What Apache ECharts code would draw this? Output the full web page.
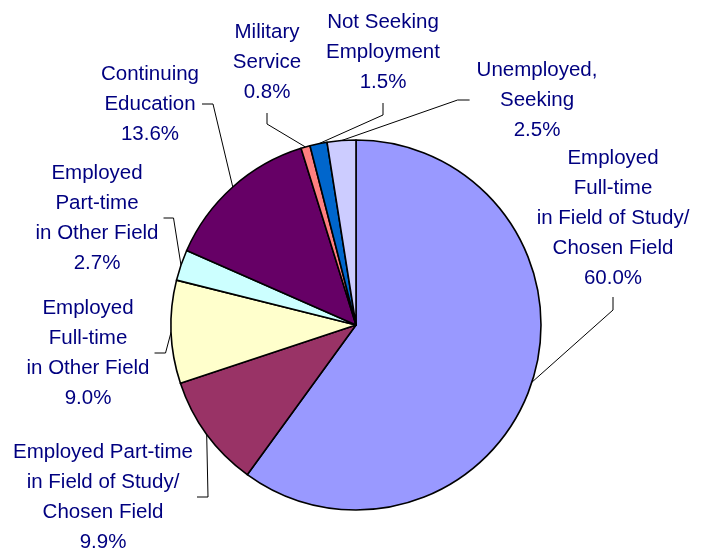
<!DOCTYPE html>
<html>
<head>
<meta charset="utf-8">
<script src="https://cdn.jsdelivr.net/npm/echarts@6/dist/echarts.min.js"></script>
<style>
  html, body { margin: 0; padding: 0; background: #fff; }
  #main { width: 707px; height: 550px; }
</style>
</head>
<body>
<div id="main"></div>
<script>
// slices, clockwise from 12 o'clock
var categories = [
    'Employed\nFull-time\nin Field of Study/\nChosen Field',
    'Employed Part-time\nin Field of Study/\nChosen Field',
    'Employed\nFull-time\nin Other Field',
    'Employed\nPart-time\nin Other Field',
    'Continuing\nEducation',
    'Military\nService',
    'Not Seeking\nEmployment',
    'Unemployed,\nSeeking'
];
var values = [60.0, 9.9, 9.0, 2.7, 13.6, 0.8, 1.5, 2.5];

var colors = ['#9999FF', '#993366', '#FFFFCC', '#CCFFFF', '#660066', '#FF8080', '#0066CC', '#CCCCFF'];

// where each text block sits (centre) and which side the leader line joins it
var labelSpots = [
    { x: 613, y: 218, side: 'bottom', gap: 4, elbow: 13 },
    { x: 103, y: 497, side: 'right', gap: 4, elbow: 11 },
    { x: 88, y: 353, side: 'right', gap: 5, elbow: 11 },
    { x: 97, y: 218, side: 'right', gap: 5, elbow: 10 },
    { x: 150, y: 104, side: 'right', gap: 3, elbow: 11 },
    { x: 267, y: 62, side: 'bottom', gap: 6, elbow: 11 },
    { x: 383, y: 52, side: 'bottom', gap: 6, elbow: 12 },
    { x: 537, y: 100, side: 'left', gap: 7, elbow: 12 }
];

var chart = echarts.init(document.getElementById('main'), null, { renderer: 'canvas' });

var data = categories.map(function (name, i) {
    return { name: name, value: values[i], itemStyle: { color: colors[i] } };
});

chart.setOption({
    backgroundColor: '#FFFFFF',
    animation: false,
    series: [{
        type: 'pie',
        center: [356, 325],
        radius: 185,
        startAngle: 90,
        clockwise: true,
        silent: true,
        avoidLabelOverlap: false,
        itemStyle: {
            borderColor: '#000000',
            borderWidth: 1.6
        },
        label: {
            show: true,
            position: 'outside',
            overflow: 'none',
            color: '#000080',
            fontFamily: 'Liberation Sans, Arial, sans-serif',
            fontSize: 20.5,
            lineHeight: 30,
            align: 'center',
            formatter: function (p) {
                return p.name + '\n' + p.value.toFixed(1) + '%';
            }
        },
        labelLine: {
            show: true,
            smooth: false,
            lineStyle: { color: '#000000', width: 1 }
        },
        labelLayout: function (params) {
            var s = labelSpots[params.dataIndex];
            var w = params.labelRect.width;
            var h = params.labelRect.height;
            var anchor = params.labelLinePoints[0];
            var end, elbow;
            if (s.side === 'right') {
                end = [s.x + w / 2 + s.gap, s.y];
                elbow = [end[0] + s.elbow, s.y];
            } else if (s.side === 'left') {
                end = [s.x - w / 2 - s.gap, s.y];
                elbow = [end[0] - s.elbow, s.y];
            } else {
                end = [s.x, s.y + h / 2 + s.gap];
                elbow = [s.x, end[1] + s.elbow];
            }
            return {
                x: s.x,
                y: s.y,
                align: 'center',
                verticalAlign: 'middle',
                labelLinePoints: [anchor, elbow, end]
            };
        },
        data: data
    }]
});

window.addEventListener('resize', function () {
    chart.resize();
});
</script>
</body>
</html>
